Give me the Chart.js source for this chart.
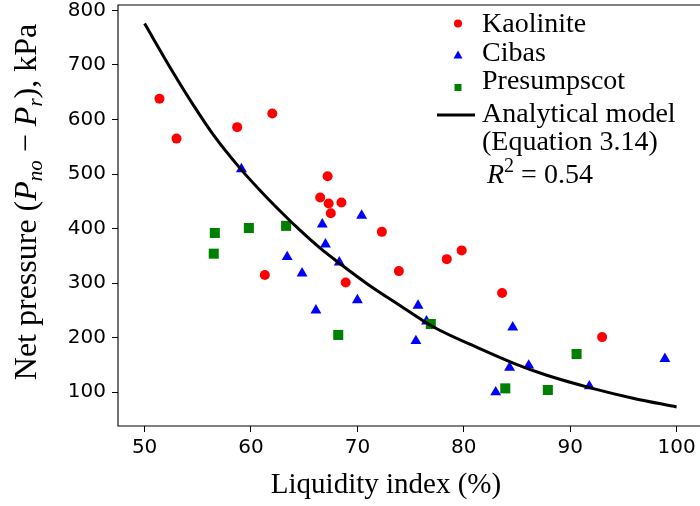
<!DOCTYPE html>
<html>
<head>
<meta charset="utf-8">
<script src="https://cdn.jsdelivr.net/npm/chart.js@4.4.0/dist/chart.umd.min.js"></script>
<style>
  html, body { margin: 0; padding: 0; background: #fff; }
  #wrap { width: 700px; height: 506px; }
</style>
</head>
<body>
<div id="wrap"><canvas id="mycanvas" width="700" height="506"></canvas></div>
<script>
// values
var kaoliniteX = [51.4, 53.0, 58.7, 62.0, 67.2, 66.5, 67.3, 68.5, 67.5, 72.3, 61.3, 68.9, 73.9, 78.4, 79.8, 83.6, 93.0];
var kaoliniteY = [638, 565, 586, 611, 496, 457, 446, 448, 428, 394, 315, 301, 322, 344, 360, 282, 201];

var cibasX = [59.1, 66.7, 70.4, 67.0, 63.4, 64.8, 68.3, 70.0, 66.1, 75.7, 75.5, 76.5, 84.6, 84.3, 86.1, 83.0, 91.8, 98.9];
var cibasY = [509, 408, 424, 371, 348, 318, 338, 269, 250, 259, 194, 230, 219, 145, 149, 100, 111, 161];

var presumpscotX = [56.6, 59.8, 63.3, 56.5, 68.2, 76.9, 83.9, 87.9, 90.6];
var presumpscotY = [392, 401, 405, 354, 205, 225, 107, 104, 170];

// analytical model curve (Equation 3.14), sampled from the figure
var modelX = [50, 52.75, 54.6, 56.5, 59.0, 60.9, 62.9, 64.6, 66.5, 68.4, 70.9, 74.0, 77.2, 81.5, 84.7, 87.8, 91.9, 95.9, 100];
var modelY = [776, 684, 626, 571, 510, 469, 429, 397, 364, 335, 299, 259, 219, 180, 153, 131, 108, 89, 73];

var xTicks = [50, 60, 70, 80, 90, 100];
var yTicks = [100, 200, 300, 400, 500, 600, 700, 800];

function pts(xs, ys) {
  var out = [];
  for (var i in xs) out.push({x: xs[i], y: ys[i]});
  return out;
}

var SERIF = '"Liberation Serif", "DejaVu Serif", serif';

function drawRuns(ctx, runs, x, y) {
  for (var i = 0; i < runs.length; i++) {
    var r = runs[i];
    ctx.font = r.f;
    ctx.fillText(r.t, x, y + (r.dy || 0));
    x += ctx.measureText(r.t).width;
  }
}
function runsWidth(ctx, runs) {
  var w = 0;
  for (var i = 0; i < runs.length; i++) {
    ctx.font = runs[i].f;
    w += ctx.measureText(runs[i].t).width;
  }
  return w;
}

var extras = {
  id: 'extras',
  afterDraw: function(chart) {
    var ctx = chart.ctx, a = chart.chartArea;
    ctx.save();
    // spines
    ctx.strokeStyle = '#000';
    ctx.lineWidth = 1.1;
    ctx.beginPath();
    ctx.moveTo(a.right, a.top); ctx.lineTo(a.left, a.top);
    ctx.lineTo(a.left, a.bottom); ctx.lineTo(a.right, a.bottom);
    ctx.stroke();

    ctx.fillStyle = '#000';
    ctx.textBaseline = 'alphabetic';

    // x title
    ctx.font = '29px ' + SERIF;
    ctx.textAlign = 'center';
    ctx.fillText('Liquidity index (%)', 386, 493);

    // y title, with subscripts
    ctx.textAlign = 'left';
    var yRuns = [
      {t: 'Net pressure (', f: '32px ' + SERIF},
      {t: 'P', f: 'italic 32px ' + SERIF},
      {t: 'no', f: 'italic 21px ' + SERIF, dy: 6},
      {t: ' \u2212 ', f: '32px ' + SERIF},
      {t: 'P', f: 'italic 32px ' + SERIF},
      {t: 'r', f: 'italic 21px ' + SERIF, dy: 6},
      {t: '), kPa', f: '32px ' + SERIF}
    ];
    ctx.save();
    ctx.translate(36, 202);
    ctx.rotate(-Math.PI / 2);
    drawRuns(ctx, yRuns, -runsWidth(ctx, yRuns) / 2, 0);
    ctx.restore();

    // legend
    var mx = 458;
    ctx.fillStyle = '#ff0000';
    ctx.beginPath(); ctx.arc(mx, 23.5, 4, 0, Math.PI * 2); ctx.fill();
    ctx.fillStyle = '#0000ff';
    ctx.beginPath();
    ctx.moveTo(mx, 50.5); ctx.lineTo(mx + 4.5, 58.5); ctx.lineTo(mx - 4.5, 58.5); ctx.closePath(); ctx.fill();
    ctx.fillStyle = '#008000';
    ctx.fillRect(mx - 3.5, 84, 7, 7);
    ctx.strokeStyle = '#000';
    ctx.lineWidth = 3;
    ctx.beginPath(); ctx.moveTo(437, 115); ctx.lineTo(475, 115); ctx.stroke();

    ctx.fillStyle = '#000';
    var lf = '28px ' + SERIF;
    ctx.font = lf;
    ctx.fillText('Kaolinite', 482, 32);
    ctx.fillText('Cibas', 482, 61);
    ctx.fillText('Presumpscot', 482, 89);
    ctx.fillText('Analytical model', 482, 122);
    ctx.fillText('(Equation 3.14)', 482, 150);
    drawRuns(ctx, [
      {t: 'R', f: 'italic 28px ' + SERIF},
      {t: '2', f: '20px ' + SERIF, dy: -11},
      {t: ' = 0.54', f: lf}
    ], 487, 183);
    ctx.restore();
  }
};

var ctx = document.getElementById('mycanvas');

var chart = new Chart(ctx, {
  type: 'scatter',
  data: {
    datasets: [
      {
        type: 'line',
        label: 'Analytical model',
        data: pts(modelX, modelY),
        borderColor: '#000000',
        borderWidth: 3,
        pointRadius: 0,
        fill: false,
        cubicInterpolationMode: 'monotone',
        order: 0
      },
      {
        label: 'Presumpscot',
        data: pts(presumpscotX, presumpscotY),
        pointStyle: 'rect',
        pointRadius: 7.1,
        backgroundColor: '#008000',
        borderWidth: 0,
        order: 1
      },
      {
        label: 'Cibas',
        data: pts(cibasX, cibasY),
        pointStyle: 'triangle',
        pointRadius: 6.3,
        backgroundColor: '#0000ff',
        borderWidth: 0,
        order: 2
      },
      {
        label: 'Kaolinite',
        data: pts(kaoliniteX, kaoliniteY),
        pointStyle: 'circle',
        pointRadius: 5,
        backgroundColor: '#ff0000',
        borderWidth: 0,
        order: 3
      }
    ]
  },
  options: {
    responsive: false,
    animation: false,
    events: [],
    layout: { autoPadding: false, padding: { top: 5, right: 0, left: 0, bottom: 0 } },
    plugins: { legend: { display: false }, tooltip: { enabled: false } },
    scales: {
      x: {
        type: 'linear',
        min: 47.5,
        max: 102.2,
        afterFit: function(s) { s.height = 80; s.paddingLeft = 0; s.paddingRight = 0; },
        afterBuildTicks: function(s) { s.ticks = xTicks.map(function(v) { return {value: v}; }); },
        grid: { drawOnChartArea: false, drawTicks: true, tickLength: 6, color: '#000', lineWidth: 1 },
        border: { display: false },
        ticks: { color: '#000', padding: 4, maxRotation: 0, autoSkip: false, font: { family: '"DejaVu Sans"', size: 20 } }
      },
      y: {
        type: 'linear',
        min: 38,
        max: 810,
        afterFit: function(s) { s.width = 118; s.paddingTop = 0; s.paddingBottom = 0; },
        afterBuildTicks: function(s) { s.ticks = yTicks.map(function(v) { return {value: v}; }); },
        grid: { drawOnChartArea: false, drawTicks: true, tickLength: 6, color: '#000', lineWidth: 1 },
        border: { display: false },
        ticks: { color: '#000', padding: 6, autoSkip: false, font: { family: '"DejaVu Sans"', size: 20 } }
      }
    }
  },
  plugins: [extras]
});
</script>
</body>
</html>
